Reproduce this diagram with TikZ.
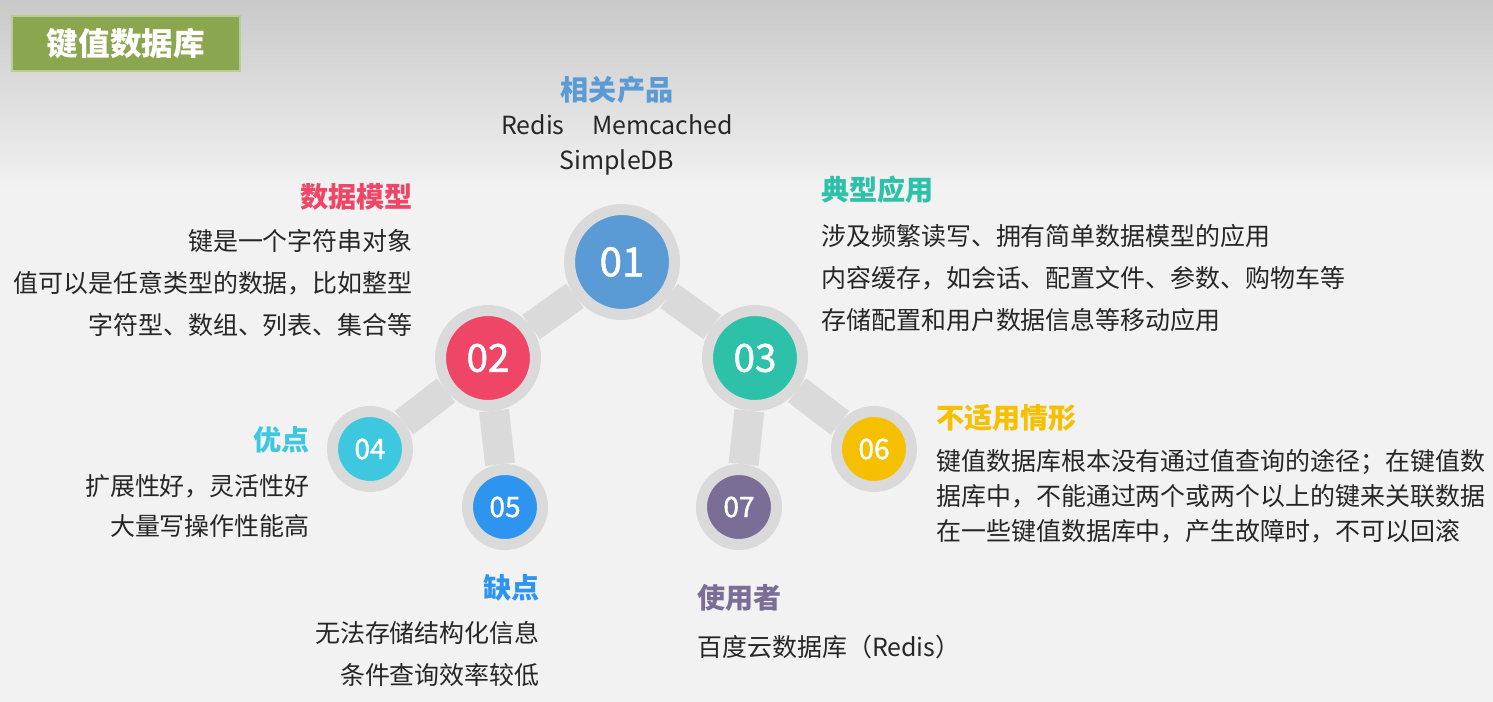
\documentclass[tikz,border=0pt]{standalone}
\usepackage{fontspec}
\setmainfont{Noto Sans CJK SC}
\newfontfamily\ballfont[RawFeature={embolden=1.3}]{Noto Sans CJK SC}
\usetikzlibrary{positioning}
\definecolor{bgpaper}{HTML}{F2F2F2}
\definecolor{bgtop}{HTML}{C9C9C9}
\definecolor{ringgray}{HTML}{DADADA}
\definecolor{titlegreen}{HTML}{8AA64E}
\definecolor{titleedge}{HTML}{B9CC95}
\definecolor{bodytext}{HTML}{262626}
\definecolor{numblue}{HTML}{5B9BD5}
\definecolor{numred}{HTML}{EF4667}
\definecolor{numteal}{HTML}{2EC1A9}
\definecolor{numcyan}{HTML}{3EC8E0}
\definecolor{numazure}{HTML}{2D94F0}
\definecolor{numyellow}{HTML}{F5C000}
\definecolor{numpurple}{HTML}{7A6E96}

\begin{document}
\begin{tikzpicture}[
    x=0.02cm, y=-0.02cm,
    ball/.style={circle, draw=ringgray, line width=0.22cm, text=white, inner sep=0pt},
    bigball/.style={ball, minimum size=2.1cm, font=\fontsize{23}{23}\ballfont},
    midball/.style={ball, minimum size=1.9cm, font=\fontsize{22}{22}\ballfont},
    smallball/.style={ball, minimum size=1.5cm, font=\fontsize{16}{16}\ballfont},
    link/.style={draw=ringgray, line width=0.6cm},
    head/.style={font=\fontsize{16}{16}\selectfont\bfseries, inner sep=0pt},
    body/.style={font=\fontsize{14.2}{23.8}\selectfont, text=bodytext, inner sep=0pt},
    titlebox/.style={fill=titlegreen, draw=titleedge, line width=1pt, text=white,
        minimum width=4.56cm, minimum height=1.1cm, font=\fontsize{18}{18}\selectfont\bfseries}
]
\useasboundingbox (0,0) rectangle (1493,702);
\fill[bgpaper] (0,0) rectangle (1493,702);
\shade[top color=bgtop, bottom color=bgpaper] (0,0) rectangle (1493,190);

\node[titlebox] (title) at (126,43.5) {键值数据库};

% numbered balls
\node[bigball, fill=numblue] (n01) at (622,262) {01};
\node[midball, fill=numred] (n02) at (488,358) {02};
\node[midball, fill=numteal] (n03) at (755,358) {03};
\node[smallball, fill=numcyan] (n04) at (370,449) {04};
\node[smallball, fill=numazure] (n05) at (505,507) {05};
\node[smallball, fill=numyellow] (n06) at (874,449) {06};
\node[smallball, fill=numpurple] (n07) at (739,507) {07};

\draw[link] (n01) -- (n02);
\draw[link] (n01) -- (n03);
\draw[link] (n02) -- (n04);
\draw[link] (n02) -- (n05);
\draw[link] (n03) -- (n06);
\draw[link] (n03) -- (n07);

% texts
\node[head, text=numblue] (h01) at (617,90) {相关产品};
\node[body, align=center, anchor=north, font=\fontsize{14.2}{19.9}\selectfont] (t01) at (617,114)
    {Redis\hspace{1.1em}Memcached\\SimpleDB};

\node[head, text=numred, anchor=east] (h02) at (413,197) {数据模型};
\node[body, align=right, anchor=north east] (t02) at (413,229)
    {键是一个字符串对象\\值可以是任意类型的数据，比如整型\\字符型、数组、列表、集合等};

\node[head, text=numteal, anchor=west] (h03) at (821,190) {典型应用};
\node[body, align=left, anchor=north west] (t03) at (821,224)
    {涉及频繁读写、拥有简单数据模型的应用\\内容缓存，如会话、配置文件、参数、购物车等\\存储配置和用户数据信息等移动应用};

\node[head, text=numcyan, anchor=east] (h04) at (310,440) {优点};
\node[body, align=right, anchor=north east, font=\fontsize{14.2}{22.7}\selectfont] (t04) at (310,474)
    {扩展性好，灵活性好\\大量写操作性能高};

\node[head, text=numazure, anchor=east] (h05) at (540,588) {缺点};
\node[body, align=right, anchor=north east] (t05) at (540,621)
    {无法存储结构化信息\\条件查询效率较低};

\node[head, text=numyellow, anchor=west] (h06) at (936,418) {不适用情形};
\node[body, align=left, anchor=north west, font=\fontsize{14.2}{19.9}\selectfont] (t06) at (936,449)
    {键值数据库根本没有通过值查询的途径；在键值数\\据库中，不能通过两个或两个以上的键来关联数据\\在一些键值数据库中，产生故障时，不可以回滚};

\node[head, text=numpurple, anchor=west] (h07) at (697,598) {使用者};
\node[body, anchor=west] (t07) at (697,647) {百度云数据库（Redis）};

\end{tikzpicture}
\end{document}
